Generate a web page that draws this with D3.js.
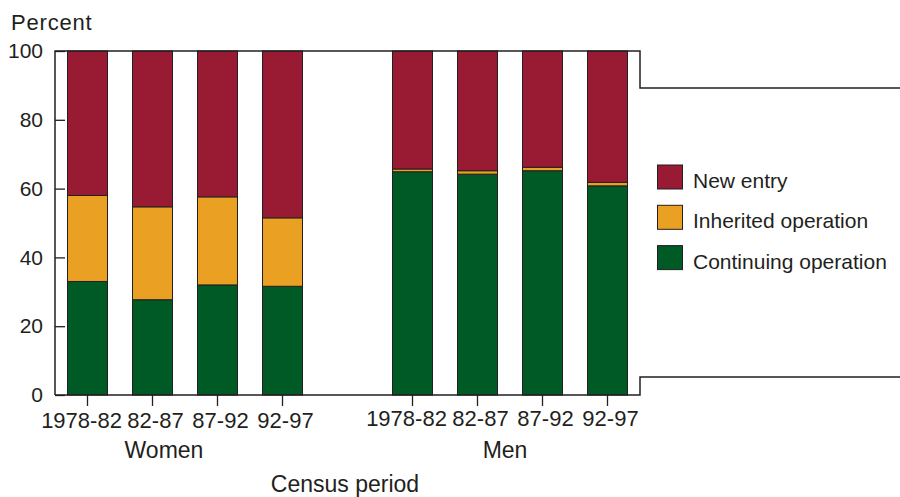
<!DOCTYPE html>
<html>
<head>
<meta charset="utf-8">
<script src="https://cdn.jsdelivr.net/npm/d3@7/dist/d3.min.js"></script>
<style>
  html, body { margin: 0; padding: 0; background: #fff; }
  svg { display: block; font-family: "Liberation Sans", Arial, Helvetica, sans-serif; }
</style>
</head>
<body>
<svg id="chart" width="900" height="497"></svg>
<script>
// ---- Data ----
const periods = ["1978-82", "82-87", "87-92", "92-97"];
const groups = ["Women", "Men"];
const seriesNames = ["Continuing operation", "Inherited operation", "New entry"];
const continuingWomen = [33.0, 27.7, 32.0, 31.6];
const continuingMen   = [64.9, 64.2, 65.2, 60.8];
const inheritedWomen  = [25.0, 27.0, 25.6, 19.9];
const inheritedMen    = [0.8, 1.0, 1.0, 1.0];
const newEntryWomen   = [42.0, 45.3, 42.4, 48.5];
const newEntryMen     = [34.3, 34.8, 33.8, 38.2];
const yTicks = [0, 20, 40, 60, 80, 100];

const colors = {
  "New entry": "#981a33",
  "Inherited operation": "#e9a023",
  "Continuing operation": "#005a25"
};
const ink = "#231f20";

// ---- Build rows ----
const rows = [];
groups.forEach((g, gi) => {
  periods.forEach((p, pi) => {
    rows.push({
      key: g + "|" + p, group: g, period: p, idx: pi,
      "Continuing operation": gi === 0 ? continuingWomen[pi] : continuingMen[pi],
      "Inherited operation": gi === 0 ? inheritedWomen[pi] : inheritedMen[pi],
      "New entry": gi === 0 ? newEntryWomen[pi] : newEntryMen[pi]
    });
  });
  if (gi === 0) rows.push({ key: "gap", gap: true });
});

const svg = d3.select("#chart");
const plotL = 55, plotR = 640, plotT = 51, plotB = 395;

const x = d3.scaleBand()
  .domain(rows.map(d => d.key))
  .range([plotL, plotR])
  .paddingInner(25 / 65)
  .paddingOuter(12.5 / 65);

const y = d3.scaleLinear().domain([0, 100]).range([plotB, plotT]);

const dataRows = rows.filter(d => !d.gap);
const stack = d3.stack().keys(seriesNames);
const stacked = stack(dataRows);

// ---- Bars ----
svg.append("g").selectAll("g")
  .data(stacked)
  .join("g")
  .attr("fill", d => colors[d.key])
  .selectAll("rect")
  .data(d => d)
  .join("rect")
  .attr("x", d => x(d.data.key))
  .attr("width", x.bandwidth())
  .attr("y", d => y(d[1]))
  .attr("height", d => y(d[0]) - y(d[1]))
  .attr("stroke", ink)
  .attr("stroke-width", 1);

// ---- Y axis (ticks point inward) ----
const yAxis = svg.append("g")
  .attr("transform", `translate(${plotL},0)`)
  .call(d3.axisLeft(y).tickValues(yTicks).tickSize(-10).tickPadding(12))
  .call(g => g.select(".domain").remove());
yAxis.selectAll(".tick line").attr("stroke", ink).attr("stroke-width", 1.3);
yAxis.selectAll(".tick text")
  .attr("fill", ink)
  .style("font-size", "21px")
  .style("font-family", "'Liberation Sans', Arial, sans-serif");

// ---- X axis ----
const xAxis = svg.append("g")
  .attr("transform", `translate(0,${plotB})`)
  .call(d3.axisBottom(x)
    .tickValues(dataRows.map(d => d.key))
    .tickFormat(k => k.split("|")[1])
    .tickSize(11))
  .call(g => g.select(".domain").remove());
xAxis.selectAll(".tick line").attr("stroke", ink).attr("stroke-width", 1.3);
xAxis.selectAll(".tick text")
  .attr("fill", ink)
  .attr("y", k => k.startsWith("Women") ? 33 : 31)
  .attr("dy", 0)
  .attr("dx", k => k.endsWith("1978-82") ? -6 : 3)
  .style("font-size", "22px")
  .style("font-family", "'Liberation Sans', Arial, sans-serif");

// ---- Frame ----
const frame = svg.append("g").attr("fill", "none").attr("stroke", ink).attr("stroke-width", 1.5);
frame.append("path").attr("d", `M${plotL},${plotB} V${plotT} H${plotR} V88 H900`);
frame.append("path").attr("d", `M${plotL},${plotB} H${plotR} V377 H900`);

// ---- Labels ----
const txt = (s, xx, yy, size, anchor) => svg.append("text")
  .attr("x", xx).attr("y", yy)
  .attr("text-anchor", anchor || "start")
  .attr("fill", ink)
  .style("font-size", size + "px")
  .text(s);

txt("Percent", 11, 30, 22).attr("letter-spacing", 0.8);
txt(groups[0], 164, 458, 23, "middle");
txt(groups[1], 505, 457.5, 23, "middle");
txt("Census period", 345, 492, 23, "middle");

// ---- Legend ----
const legendOrder = ["New entry", "Inherited operation", "Continuing operation"];
const lg = svg.append("g");
legendOrder.forEach((name, i) => {
  const yy = 165 + i * 40.3;
  lg.append("rect")
    .attr("x", 657.5).attr("y", yy)
    .attr("width", 25).attr("height", 24)
    .attr("fill", colors[name])
    .attr("stroke", ink).attr("stroke-width", 1);
  lg.append("text")
    .attr("x", 693).attr("y", yy + 23)
    .attr("fill", ink)
    .style("font-size", "21px")
    .text(name);
});
</script>
</body>
</html>
